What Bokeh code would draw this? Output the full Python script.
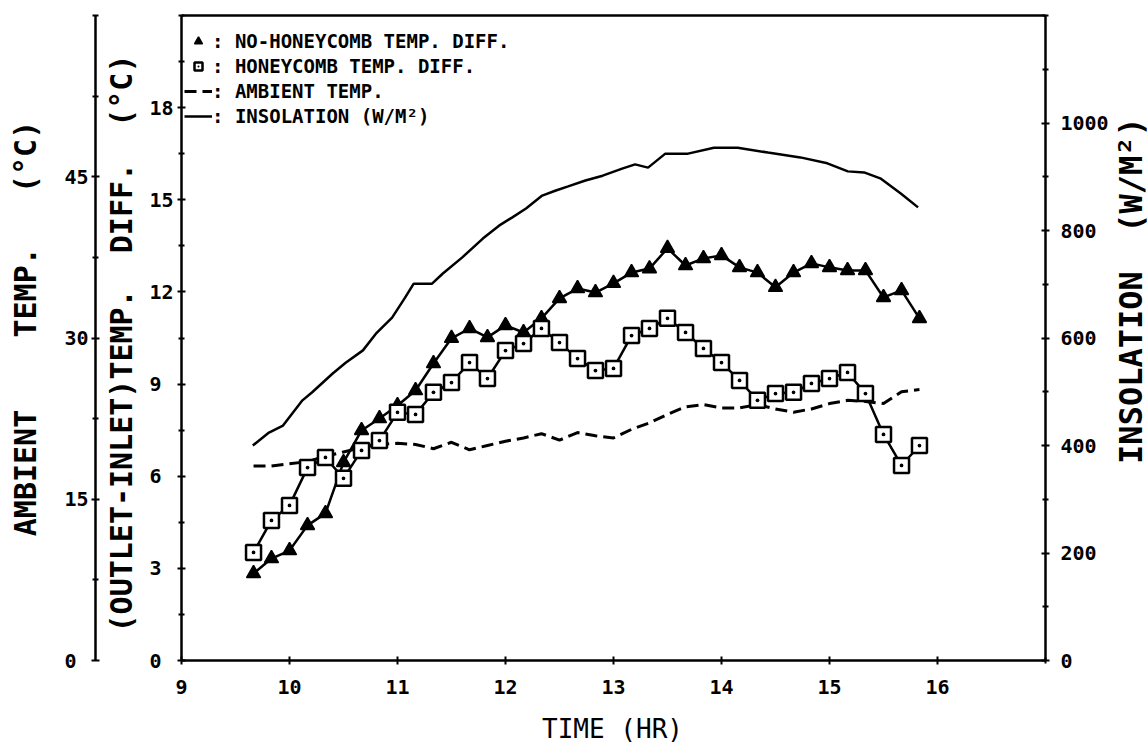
import math
from bokeh.plotting import figure
from bokeh.models import Range1d, LinearAxis, FixedTicker, Label, Legend, LegendItem
from bokeh.embed import file_html
from bokeh.resources import INLINE

# ---------------- data ----------------
time_hr = [9.667, 9.833, 10.0, 10.167, 10.333, 10.5, 10.667, 10.833, 11.0, 11.167,
           11.333, 11.5, 11.667, 11.833, 12.0, 12.167, 12.333, 12.5, 12.667, 12.833,
           13.0, 13.167, 13.333, 13.5, 13.667, 13.833, 14.0, 14.167, 14.333, 14.5,
           14.667, 14.833, 15.0, 15.167, 15.333, 15.5, 15.667, 15.833]
no_honeycomb_diff = [2.83, 3.32, 3.58, 4.40, 4.79, 6.45, 7.49, 7.88, 8.30, 8.79,
                     9.67, 10.49, 10.81, 10.52, 10.91, 10.68, 11.14, 11.79, 12.11, 11.98,
                     12.28, 12.63, 12.76, 13.42, 12.86, 13.09, 13.19, 12.80, 12.63, 12.15,
                     12.63, 12.93, 12.80, 12.70, 12.70, 11.82, 12.05, 11.14]
honeycomb_diff = [3.52, 4.56, 5.05, 6.28, 6.61, 5.93, 6.84, 7.16, 8.08, 8.01,
                  8.73, 9.05, 9.70, 9.18, 10.09, 10.32, 10.81, 10.35, 9.83, 9.44,
                  9.51, 10.58, 10.81, 11.14, 10.68, 10.16, 9.70, 9.12, 8.47, 8.69,
                  8.73, 9.02, 9.18, 9.38, 8.69, 7.36, 6.35, 7.00]
ambient_temp = [18.1, 18.1, 18.3, 18.5, 19.0, 19.4, 19.8, 20.1, 20.2, 20.1,
                19.7, 20.3, 19.6, 20.0, 20.4, 20.7, 21.1, 20.5, 21.2, 20.9,
                20.7, 21.5, 22.1, 22.9, 23.6, 23.8, 23.5, 23.5, 23.8, 23.4,
                23.1, 23.4, 23.9, 24.2, 24.1, 23.9, 25.0, 25.2]
ins_time_hr = [9.66, 9.81, 9.94, 10.12, 10.21, 10.40, 10.52, 10.68, 10.80, 10.95,
               11.07, 11.15, 11.32, 11.42, 11.60, 11.79, 11.94, 12.06, 12.19, 12.34,
               12.46, 12.58, 12.74, 12.90, 13.08, 13.20, 13.32, 13.48, 13.69, 13.93,
               14.15, 14.43, 14.73, 14.98, 15.17, 15.32, 15.47, 15.66, 15.82]
insolation = [400, 424, 437, 484, 499, 534, 554, 577, 608, 638,
              675, 701, 701, 720, 750, 785, 809, 824, 841, 865,
              874, 882, 893, 902, 915, 923, 917, 943, 943, 954,
              954, 945, 936, 925, 910, 908, 897, 869, 843]

x_ticks = [9, 10, 11, 12, 13, 14, 15, 16]
x_minor = [17]
diff_ticks = [0, 3, 6, 9, 12, 15, 18]
diff_tick_labels = ["0\u00a0", "3\u00a0", "6\u00a0", "9\u00a0", "12", "15", "18"]
diff_minor = [1.5, 4.5, 7.5, 10.5, 13.5, 16.5, 19.5, 21]
amb_ticks = [0, 15, 30, 45]
amb_tick_labels = ["0\u00a0", "15", "30", "45"]
amb_minor = [7.5, 22.5, 37.5, 52.5, 60]
ins_ticks = [0, 200, 400, 600, 800, 1000]
ins_minor = [100, 300, 500, 700, 900, 1100, 1200]

# ---------------- layout ----------------
W, H = 1148, 750
FR_L, FR_R, FR_T, FR_B = 181, 1045, 15, 660
X0, X1 = 9, 17
D0, D1 = 0, 21
A0, A1 = 0, 60
I0, I1 = 0, 1200
FONT = "DejaVu Sans Mono"


def xr(v0, v1):
    k = (v1 - v0) / (FR_R - FR_L)
    return Range1d(start=v0 - FR_L * k, end=v0 + (W - FR_L) * k)


def yr(v0, v1):
    k = (v1 - v0) / (FR_B - FR_T)
    return Range1d(start=v0 - (H - FR_B) * k, end=v0 + FR_B * k)


def px_to_x(px):
    return X0 + (px - FR_L) * (X1 - X0) / (FR_R - FR_L)


def py_to_d(py):
    return D0 + (FR_B - py) * (D1 - D0) / (FR_B - FR_T)


p = figure(width=W, height=H, x_range=xr(X0, X1), y_range=yr(D0, D1),
           x_axis_location=None, y_axis_location=None, toolbar_location=None,
           output_backend="svg", min_border=0, outline_line_color=None, title=None,
           background_fill_color="white", border_fill_color="white")
p.extra_y_ranges = {"amb": yr(A0, A1), "ins": yr(I0, I1)}
p.grid.visible = False


def style(ax, standoff):
    ax.axis_line_width = 2.5
    ax.axis_line_color = "black"
    ax.major_tick_line_width = 2
    ax.minor_tick_line_width = 2
    ax.major_tick_in = 4
    ax.major_tick_out = 4
    ax.minor_tick_in = 3
    ax.minor_tick_out = 3
    ax.major_label_standoff = standoff
    ax.major_label_text_font = FONT
    ax.major_label_text_font_style = "bold"
    ax.major_label_text_font_size = "20px"
    ax.major_label_text_color = "black"
    return ax


xax = style(LinearAxis(ticker=FixedTicker(ticks=x_ticks, minor_ticks=x_minor),
                       fixed_location=D0, bounds=(X0, X1)), 15)
p.add_layout(xax, "below")

top = style(LinearAxis(ticker=FixedTicker(ticks=[], minor_ticks=[]),
                       fixed_location=D1, bounds=(X0, X1)), 0)
p.add_layout(top, "above")

dax = style(LinearAxis(ticker=FixedTicker(ticks=diff_ticks, minor_ticks=diff_minor),
                       fixed_location=X0, bounds=(D0, D1),
                       major_label_overrides=dict(zip(diff_ticks, diff_tick_labels))), 4)
p.add_layout(dax, "left")

aax = style(LinearAxis(y_range_name="amb",
                       ticker=FixedTicker(ticks=amb_ticks, minor_ticks=amb_minor),
                       fixed_location=px_to_x(95), bounds=(A0, A1),
                       major_label_overrides=dict(zip(amb_ticks, amb_tick_labels))), 3)
p.add_layout(aax, "left")

iax = style(LinearAxis(y_range_name="ins",
                       ticker=FixedTicker(ticks=ins_ticks, minor_ticks=ins_minor),
                       fixed_location=X1, bounds=(I0, I1)), 11)
p.add_layout(iax, "right")

# ---------------- series ----------------
ins_line = p.line(ins_time_hr, insolation, y_range_name="ins", line_color="black", line_width=2.5)
amb_line = p.line(time_hr, ambient_temp, y_range_name="amb", line_color="black",
                  line_width=3, line_dash="12 6")
p.line(time_hr, no_honeycomb_diff, line_color="black", line_width=2.5)
tri_pts = p.scatter(time_hr, no_honeycomb_diff, marker="triangle", size=14,
                    fill_color="black", line_color="black", line_width=1.5)
p.line(time_hr, honeycomb_diff, line_color="black", line_width=2.5)
sq_pts = p.scatter(time_hr, honeycomb_diff, marker="square_dot", size=15,
                   fill_color="white", line_color="black", line_width=2.5)

# ---------------- titles ----------------
def title(text, px, py, size, angle=0.0, bold=True):
    p.add_layout(Label(x=px_to_x(px), y=py_to_d(py), text=text, angle=angle,
                       text_align="center", text_baseline="middle", text_font=FONT,
                       text_font_size=size, text_font_style="bold" if bold else "normal",
                       text_color="black"))


title("AMBIENT\u00a0\u00a0\u00a0\u00a0TEMP.\u00a0\u00a0\u00a0(°C)", 25, 328, "30px", math.pi / 2)
title("(OUTLET-INLET)TEMP.\u00a0\u00a0DIFF.\u00a0\u00a0(°C)", 121, 343, "30px", math.pi / 2)
title("INSOLATION\u00a0\u00a0(W/M²)", 1130, 290, "32px", math.pi / 2)
title("TIME (HR)", 612, 728, "26px", 0.0, bold=False)

# ---------------- legend ----------------
legend = Legend(items=[
    LegendItem(label=": NO-HONEYCOMB TEMP. DIFF.", renderers=[tri_pts]),
    LegendItem(label=": HONEYCOMB TEMP. DIFF.", renderers=[sq_pts]),
    LegendItem(label=": AMBIENT TEMP.", renderers=[amb_line]),
    LegendItem(label=": INSOLATION (W/M²)", renderers=[ins_line]),
], location=(184, H - 127), orientation="vertical", glyph_width=28, glyph_height=20,
    label_height=20, spacing=3, padding=0, margin=0, label_standoff=0,
    border_line_color=None, background_fill_alpha=0,
    label_text_font=FONT, label_text_font_style="bold", label_text_font_size="19px",
    label_text_color="black", label_text_line_height=1.0)
p.add_layout(legend)

open("out.html", "w").write(file_html(p, INLINE, title="chart"))
